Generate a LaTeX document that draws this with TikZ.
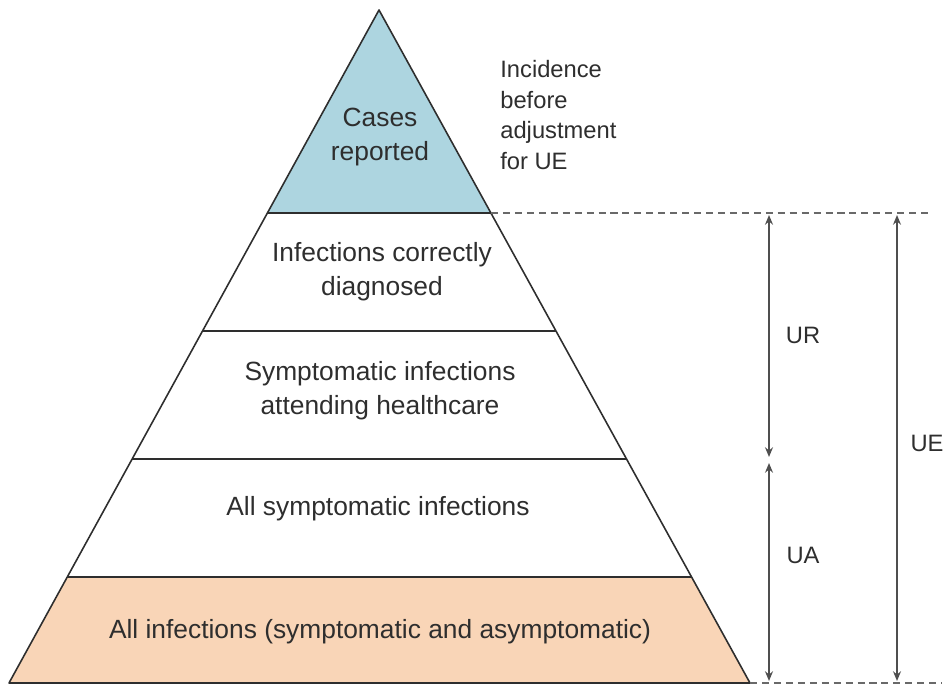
\documentclass[tikz,border=0pt]{standalone}
\usepackage{fontspec}
\setmainfont{Liberation Sans}
\usetikzlibrary{arrows.meta}
\definecolor{pyrink}{HTML}{2E2E2E}
\definecolor{casesblue}{HTML}{ADD5E0}
\definecolor{allpeach}{HTML}{F9D5B7}
\definecolor{guidegray}{HTML}{4F4F4F}

\begin{document}
\begin{tikzpicture}[
  x=0.02cm,
  y=-0.02cm,
  every node/.style={font=\fontsize{15}{19.3}\selectfont, text=pyrink,
                     align=center, inner sep=0pt},
  sidetext/.style={font=\fontsize{13.5}{17.6}\selectfont},
  edge/.style={pyrink, line width=0.9pt, line join=round},
  level/.style={pyrink, line width=0.9pt},
  cutline/.style={guidegray!85, line width=0.8pt, dash pattern=on 4pt off 2.8pt},
  guide/.style={guidegray, line width=0.9pt,
                {Stealth[length=5.5pt,width=4.5pt]}-{Stealth[length=5.5pt,width=4.5pt]}}
]
  \useasboundingbox (0,0) rectangle (949,685);

  % ---- the two coloured tiers ---------------------------------------------
  \fill[casesblue] (379,10) -- (490.9,213) -- (267.4,213) -- cycle;
  \fill[allpeach] (67.3,577) -- (691.6,577) -- (750,683) -- (9,683) -- cycle;

  % ---- pyramid outline and the four level lines ----------------------------
  \draw[edge] (379,10) -- (750,683) -- (9,683) -- cycle;
  \draw[level] (267.4,213) -- (490.9,213);
  \draw[level] (202.5,331) -- (556.0,331);
  \draw[level] (132.1,459) -- (626.5,459);
  \draw[level] (67.3,577) -- (691.6,577);

  % ---- tier labels -------------------------------------------------------
  \node (cases) at (380,137) {Cases\\reported};
  \node (diag) at (382,272) {Infections correctly\\diagnosed};
  \node (care) at (380,391) {Symptomatic infections\\attending healthcare};
  \node (symp) at (378,509) {All symptomatic infections};
  \node (allinf) at (380,632) {All infections (symptomatic and asymptomatic)};

  \node[sidetext, anchor=west, align=left] (incid) at (500,115)
    {Incidence\\before\\adjustment\\for UE};

  % ---- dashed cut lines --------------------------------------------------
  \draw[cutline] (491,213) -- (930,213);
  \draw[cutline] (750,683) -- (942,683);

  % ---- the three ranges ---------------------------------------------------
  \coordinate (urtop) at (769,215);
  \coordinate (urbot) at (769,457);
  \coordinate (uatop) at (769,463);
  \coordinate (uabot) at (769,681);
  \coordinate (uetop) at (897,215);
  \coordinate (uebot) at (897,681);

  \draw[guide] (urtop) -- (urbot);
  \draw[guide] (uatop) -- (uabot);
  \draw[guide] (uetop) -- (uebot);

  \node[sidetext] (ur) at (803,335) {UR};
  \node[sidetext] (ua) at (803,555) {UA};
  \node[sidetext] (ue) at (927,443) {UE};
\end{tikzpicture}
\end{document}
